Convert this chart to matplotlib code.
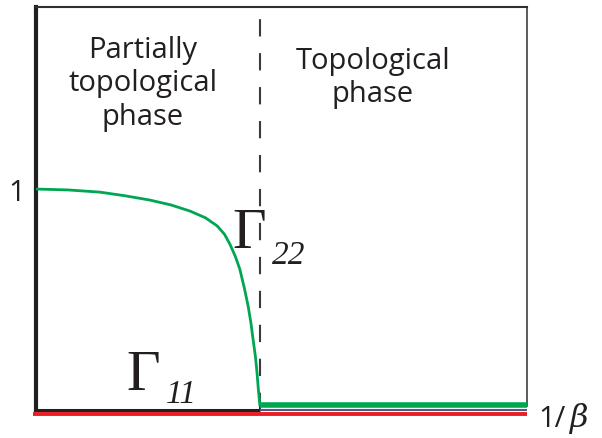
import matplotlib
matplotlib.use("Agg")
import matplotlib.pyplot as plt

# Gamma_22 curve
g22_x = [0.000, 0.065, 0.130, 0.180, 0.232, 0.275, 0.314, 0.345, 0.369, 0.384, 0.395, 0.406,
         0.415, 0.424, 0.432, 0.438, 0.442, 0.447, 0.450, 0.453, 0.456]
g22_y = [1.000, 0.996, 0.986, 0.970, 0.950, 0.928, 0.900, 0.870, 0.833, 0.795, 0.750, 0.695,
         0.638, 0.555, 0.471, 0.390, 0.321, 0.240, 0.172, 0.090, 0.018]
g22_flat_x = [0.456, 1.0]
g22_flat_y = [0.023, 0.023]
g11_x = [-0.006, 1.0]
g11_y = [-0.018, -0.018]
transition_x = 0.456
ytick_val = [1]
ytick_lab = ["1"]

GREEN = "#00a651"
RED = "#ed1c24"
BLACK = "#231f20"

fig = plt.figure(figsize=(6.02, 4.39), dpi=100)
ax = fig.add_axes([36/602, (439-419.8)/439, 491/602, (419.8-8)/439])
ax.set_xlim(0, 1)
ax.set_ylim(-0.04, 1.824)

ax.spines["bottom"].set_visible(False)
ax.spines["left"].set_linewidth(3.0)
ax.spines["left"].set_color(BLACK)
ax.spines["left"].set_bounds(0, 1.824)
ax.spines["right"].set_linewidth(1.2)
ax.spines["right"].set_color("#404040")
ax.spines["right"].set_bounds(0.02, 1.824)
ax.spines["top"].set_linewidth(1.5)
ax.spines["top"].set_color("#303030")

ax.set_xticks([])
ax.set_yticks(ytick_val)
ax.set_yticklabels(ytick_lab, fontsize=21, family="Open Sans", color=BLACK)
ax.tick_params(axis="y", length=0, pad=8)

# bottom baseline segments
ax.plot([0, transition_x], [0, 0], color=BLACK, lw=2.2, solid_capstyle="butt", zorder=3)
ax.plot([transition_x, 1.0], [0, 0], color="#4a5f7a", lw=1.5, solid_capstyle="butt", zorder=3)
ax.plot(g11_x, g11_y, color=RED, lw=2.8, solid_capstyle="butt", clip_on=False, zorder=3)

# dashed transition line
ax.plot([transition_x, transition_x], [0, 1.824], color="#3a3a3a", lw=1.5,
        dashes=(8.3, 8.0), dash_capstyle="butt", zorder=2)

# Gamma_22
ax.plot(g22_x, g22_y, color=GREEN, lw=2.0, zorder=4, solid_capstyle="butt")
ax.plot(g22_flat_x, g22_flat_y, color=GREEN, lw=4.0, zorder=4, clip_on=False,
        solid_capstyle="butt")

# texts
fig.text(143/602, 1-84/439, "Partially\ntopological\nphase", ha="center", va="center",
         fontsize=21, family="Open Sans", color=BLACK, linespacing=1.22)
fig.text(373/602, 1-78/439, "Topological\nphase", ha="center", va="center",
         fontsize=21, family="Open Sans", color=BLACK, linespacing=1.22)

fig.text(232/602, 1-248/439, "Γ", fontsize=42, family="Liberation Serif", color=BLACK,
         ha="left", va="baseline")
fig.text(272/602, 1-264/439, "22", fontsize=24, family="Liberation Serif", style="italic",
         color=BLACK, ha="left", va="baseline")
fig.text(126/602, 1-390/439, "Γ", fontsize=42, family="Liberation Serif", color=BLACK,
         ha="left", va="baseline")
fig.text(166/602, 1-403/439, "11", fontsize=24, family="Liberation Serif", style="italic",
         color=BLACK, ha="left", va="baseline")

fig.text(538/602, 1-427/439, "1/", fontsize=21, family="Open Sans", color=BLACK,
         ha="left", va="baseline")
fig.text(570/602, 1-427/439, "β", fontsize=23, family="DejaVu Serif", style="italic",
         color=BLACK, ha="left", va="baseline")

fig.savefig("out.png", dpi=100)
